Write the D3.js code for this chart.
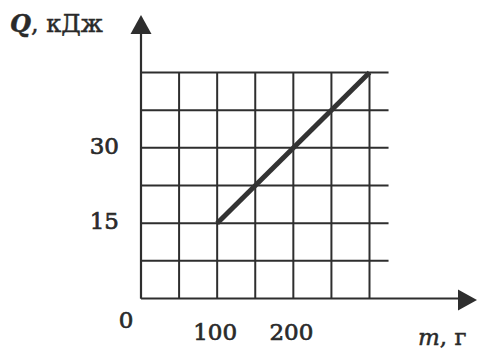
<!DOCTYPE html>
<html><head><meta charset="utf-8">
<script src="https://cdn.jsdelivr.net/npm/d3@7"></script>
<style>
html,body{margin:0;padding:0;background:#fff;}
svg{display:block;}
text{font-family:"DejaVu Serif","Liberation Serif",serif;fill:#2a2a2a;}
</style></head>
<body>
<svg id="chart" width="477" height="350"></svg>
<script>
const massValues = [100, 300];          // m, г
const heatValues = [15, 45];            // Q, кДж
const xGridValues = [0, 50, 100, 150, 200, 250, 300];
const yGridValues = [0, 7.5, 15, 22.5, 30, 37.5, 45];
const xTickLabels = [100, 200];
const yTickLabels = [15, 30];
const originLabel = "0";
const yAxisTitle = ["Q", ", кДж"];
const xAxisTitle = ["m", ", г"];

const svg = d3.select("#chart");
const x = d3.scaleLinear().domain([0, 300]).range([141, 369.5]);
const y = d3.scaleLinear().domain([0, 45]).range([298.5, 72.5]);
const ink = "#2e2e2e";

// grid verticals
svg.append("g").selectAll("line").data(xGridValues).join("line")
  .attr("x1", d => x(d)).attr("x2", d => x(d))
  .attr("y1", y(0)).attr("y2", y(45))
  .attr("stroke", ink).attr("stroke-width", 2);
// grid horizontals
svg.append("g").selectAll("line").data(yGridValues.slice(1)).join("line")
  .attr("x1", x(0)).attr("x2", x(325))
  .attr("y1", d => y(d)).attr("y2", d => y(d))
  .attr("stroke", ink).attr("stroke-width", 2);

// axes
svg.append("line").attr("x1", x(0)).attr("x2", 460).attr("y1", y(0)).attr("y2", y(0))
  .attr("stroke", ink).attr("stroke-width", 2.2);
svg.append("line").attr("x1", x(0)).attr("x2", x(0)).attr("y1", y(0)).attr("y2", 32)
  .attr("stroke", ink).attr("stroke-width", 2.2);
// arrows
const ax = x(0), ay = y(0);
svg.append("path").attr("d", `M${ax},15 L${ax-10.5},34 L${ax+10.5},34 Z`).attr("fill", ink);
svg.append("path").attr("d", `M477,${ay+1.5} L458,${ay-9} L458,${ay+12} Z`).attr("fill", ink);

// data line
const line = d3.line().x((d, i) => x(massValues[i])).y(d => y(d));
svg.append("path").datum(heatValues).attr("d", line)
  .attr("fill", "none").attr("stroke", "#333").attr("stroke-width", 5).attr("stroke-linecap", "butt");

// tick labels
const numStyle = sel => sel.attr("font-size", 23).attr("stroke", "#2a2a2a").attr("stroke-width", 0.7);
svg.append("g").selectAll("text").data(yTickLabels).join("text")
  .attr("x", 119).attr("y", d => y(d) - 2).attr("dy", "0.36em")
  .attr("text-anchor", "end").call(numStyle).text(d => d);
svg.append("g").selectAll("text").data(xTickLabels).join("text")
  .attr("x", d => x(d) - 2).attr("y", 340)
  .attr("text-anchor", "middle").call(numStyle).text(d => d);
svg.append("text").attr("x", 126).attr("y", 328).attr("text-anchor", "middle")
  .call(numStyle).text(originLabel);

// axis titles
const yt = svg.append("text").attr("x", 10).attr("y", 32).attr("font-size", 24)
  .attr("stroke", "#2a2a2a").attr("stroke-width", 0.5);
yt.append("tspan").attr("font-style", "italic").attr("font-weight", "bold").text(yAxisTitle[0]);
yt.append("tspan").text(yAxisTitle[1]);
const xt = svg.append("text").attr("x", 418).attr("y", 345).attr("font-size", 23)
  .attr("stroke", "#2a2a2a").attr("stroke-width", 0.5);
xt.append("tspan").attr("font-style", "italic").text(xAxisTitle[0]);
xt.append("tspan").text(xAxisTitle[1]);
</script>
</body></html>
